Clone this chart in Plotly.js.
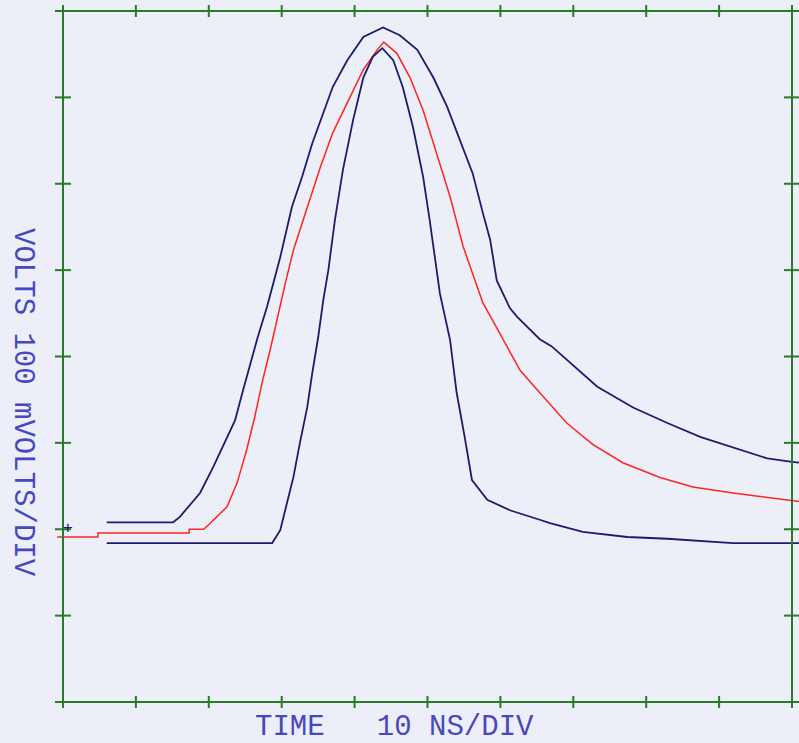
<!DOCTYPE html>
<html>
<head>
<meta charset="utf-8">
<script src="https://cdn.plot.ly/plotly-3.0.1.min.js"></script>
<style>html,body{margin:0;padding:0;background:#eceef8;}#chart{width:799px;height:743px;}</style>
</head>
<body>
<div id="chart"></div>
<script>
// Time in ns (10 ns/div), voltage in mV (100 mV/div), ground at 0 mV
var outerT = [6.0, 15.1, 16.0, 18.8, 20.6, 22.2, 23.6, 24.7, 25.9, 26.7, 28.0, 28.8, 29.8, 31.4, 32.8, 34.2, 35.5, 37.0, 39.0, 41.2, 43.9, 46.2, 48.6, 50.8, 52.7, 54.5, 56.2, 57.6, 58.6, 59.5, 61.3, 62.3, 64.1, 65.4, 67.0, 69.1, 73.3, 78.2, 82.9, 87.4, 91.9, 96.6, 100.0, 101.0];
var outerV = [8, 8, 14, 42, 72, 100, 126, 161, 199, 222, 258, 282, 315, 373, 408, 447, 477, 512, 543, 570, 581, 572, 555, 523, 489, 450, 412, 366, 335, 288, 256, 246, 231, 220, 212, 196, 165, 141, 123, 107, 95, 82, 78, 77];

var redT = [-0.8, 4.8, 4.8, 17.3, 17.3, 19.3, 20.2, 22.5, 23.9, 25.2, 26.3, 27.4, 28.4, 29.4, 30.5, 31.6, 33.5, 35.3, 37.0, 39.0, 41.2, 43.1, 44.0, 45.8, 47.6, 49.4, 51.3, 53.1, 54.9, 57.6, 59.9, 62.7, 65.4, 69.1, 72.7, 76.8, 81.9, 86.4, 91.9, 97.4, 101.0];
var redV = [-9, -9, -4.4, -4.4, 0, 0, 7, 26, 54, 92, 130, 173, 207, 246, 285, 323, 373, 419, 459, 493, 532, 555, 564, 551, 523, 485, 435, 385, 327, 262, 227, 184, 158, 123, 98, 77, 60, 49, 42, 36, 32];

var innerT = [6.0, 28.7, 29.8, 30.7, 31.6, 32.5, 33.5, 34.2, 35.0, 35.7, 36.4, 37.3, 38.4, 39.8, 41.2, 42.5, 43.8, 45.3, 46.6, 48.0, 49.4, 50.3, 50.8, 51.7, 53.1, 54.0, 55.1, 56.1, 58.2, 61.3, 65.4, 66.8, 71.3, 77.4, 82.9, 91.9, 101.0];
var innerV = [-16, -16, -1, 30, 60, 100, 141, 181, 222, 265, 300, 358, 416, 474, 523, 547, 557, 543, 512, 466, 408, 358, 326, 273, 219, 158, 107, 57, 34, 22, 11, 7, -3, -9, -11, -16, -16];

var xTicks = [0, 10, 20, 30, 40, 50, 60, 70, 80, 90, 100];
var yTicks = [-200, -100, 0, 100, 200, 300, 400, 500, 600];
var xLabel = "TIME   10 NS/DIV";
var yLabel = "VOLTS 100 mVOLTS/DIV";

var navy = "#1c1c6c";
var green = "#2a7a2a";
var textBlue = "#4848bc";

var traces = [
  {x: outerT, y: outerV, mode: "lines", line: {color: navy, width: 1.8}, name: "upper", hoverinfo: "skip"},
  {x: redT, y: redV, mode: "lines", line: {color: "#ff2424", width: 1.5}, name: "mean", hoverinfo: "skip"},
  {x: innerT, y: innerV, mode: "lines", line: {color: navy, width: 1.8}, name: "lower", hoverinfo: "skip"}
];

var xMin = xTicks[0], xMax = xTicks[xTicks.length - 1];
var yMin = yTicks[0], yMax = yTicks[yTicks.length - 1];
var shapes = [];
var frameLine = {color: green, width: 2};
shapes.push({type: "line", xref: "x", yref: "y", x0: xMin, x1: xMax, y0: yMin, y1: yMin, line: frameLine});
shapes.push({type: "line", xref: "x", yref: "y", x0: xMin, x1: xMax, y0: yMax, y1: yMax, line: frameLine});
shapes.push({type: "line", xref: "x", yref: "y", x0: xMin, x1: xMin, y0: yMin, y1: yMax, line: frameLine});
shapes.push({type: "line", xref: "x", yref: "y", x0: xMax, x1: xMax, y0: yMin, y1: yMax, line: frameLine});
xTicks.forEach(function (t) {
  [yMin, yMax].forEach(function (yy) {
    shapes.push({type: "line", xref: "x", yref: "y", ysizemode: "pixel", yanchor: yy,
      x0: t, x1: t, y0: -6, y1: 6, line: frameLine});
  });
});
yTicks.forEach(function (v) {
  [xMin, xMax].forEach(function (xx) {
    shapes.push({type: "line", xref: "x", yref: "y", xsizemode: "pixel", xanchor: xx,
      x0: -8, x1: 8, y0: v, y1: v, line: frameLine});
  });
});

var layout = {
  width: 799, height: 743,
  margin: {l: 53, r: 0, t: 1, b: 31},
  paper_bgcolor: "#eceef8",
  plot_bgcolor: "#eceef8",
  showlegend: false,
  xaxis: {range: [-1.37, 100.96], showgrid: false, zeroline: false, showline: false,
          showticklabels: false, ticks: "", fixedrange: true},
  yaxis: {range: [-211.6, 611.6], showgrid: false, zeroline: false, showline: false,
          showticklabels: false, ticks: "", fixedrange: true},
  shapes: shapes,
  annotations: [
    {text: xLabel, xref: "paper", yref: "paper", x: 0.4584, y: -0.0211,
     xanchor: "center", yanchor: "middle", showarrow: false,
     font: {family: "Liberation Mono, DejaVu Sans Mono, monospace", size: 29, color: textBlue}},
    {text: yLabel, xref: "paper", yref: "paper", x: -0.0416, y: 0.4346,
     xanchor: "center", yanchor: "middle", showarrow: false, textangle: 90,
     font: {family: "Liberation Mono, DejaVu Sans Mono, monospace", size: 29, color: textBlue}},
    {text: "+", xref: "paper", yref: "paper", x: (68 - 53) / 746, y: (712 - 527) / 711,
     xanchor: "center", yanchor: "middle", showarrow: false,
     font: {family: "DejaVu Sans Mono, monospace", size: 16, color: navy}}
  ]
};

Plotly.newPlot("chart", traces, layout, {staticPlot: true});
</script>
</body>
</html>
